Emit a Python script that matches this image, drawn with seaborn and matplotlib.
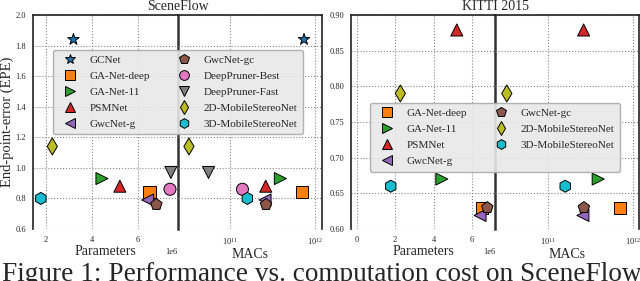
import numpy as np
import pandas as pd
import matplotlib.pyplot as plt
import seaborn as sns
from matplotlib.lines import Line2D

# valeurs
models = ['GCNet', 'GA-Net-deep', 'GA-Net-11', 'PSMNet', 'GwcNet-g', 'GwcNet-gc',
          'DeepPruner-Best', 'DeepPruner-Fast', '2D-MobileStereoNet', '3D-MobileStereoNet']
params = [3.19e6, 6.5e6, 4.43e6, 5.21e6, 6.42e6, 6.8e6, 7.39e6, 7.43e6, 2.27e6, 1.77e6]
macs = [7.4e11, 7.0e11, 3.9e11, 2.63e11, 2.58e11, 2.65e11, 1.4e11, 5.6e10, 3.3e10, 1.6e11]
epe_sceneflow = [1.84, 0.84, 0.93, 0.88, 0.79, 0.76, 0.86, 0.97, 1.14, 0.80]

kitti_models = ['GA-Net-deep', 'GA-Net-11', 'PSMNet', 'GwcNet-g', 'GwcNet-gc',
                '2D-MobileStereoNet', '3D-MobileStereoNet']
epe_kitti = [0.63, 0.67, 0.879, 0.619, 0.63, 0.79, 0.66]

colors = ['tab:blue', 'tab:orange', 'tab:green', 'tab:red', 'tab:purple', 'tab:brown',
          'tab:pink', 'tab:gray', 'tab:olive', 'tab:cyan']
marker_list = ['*', 's', '>', '^', '<', 'p', 'o', 'v', 'd', 'h']
palette = dict(zip(models, colors))
markers = dict(zip(models, marker_list))

sns.set_theme(style='white')
plt.rcParams['font.family'] = ['Liberation Serif', 'DejaVu Serif']
plt.rcParams['mathtext.fontset'] = 'stix'

df_sf = pd.DataFrame({'model': models, 'params': params, 'macs': macs, 'epe': epe_sceneflow})
info = pd.DataFrame({'model': models, 'params': params, 'macs': macs})
df_kt = pd.DataFrame({'model': kitti_models, 'epe': epe_kitti}).merge(info, on='model')

fig = plt.figure(figsize=(6.4, 2.81), dpi=100)
W, H = 640, 281


def rect(x0, x1, y0=15, y1=229):
    return [x0 / W, 1 - y1 / H, (x1 - x0) / W, (y1 - y0) / H]


def draw(df, x_edges, xlim_p, xlim_m, ylim, yticks, title, legend_anchor, ylabel=None):
    ax_p = fig.add_axes(rect(x_edges[0], x_edges[1]))
    ax_m = fig.add_axes(rect(x_edges[1], x_edges[2]), sharey=ax_p)
    ax_m.patch.set_visible(False)
    for ax, col in [(ax_p, 'params'), (ax_m, 'macs')]:
        sns.scatterplot(data=df, x=col, y='epe', hue='model', style='model',
                        palette=palette, markers=markers, s=75, edgecolor='black',
                        linewidth=0.7, legend=False, ax=ax, zorder=3)
        ax.tick_params(labelsize=6, length=3, color='#555555', pad=2)
        ax.spines['bottom'].set_visible(False)
        ax.spines['top'].set_color('#222222')
        ax.spines['top'].set_linewidth(1.2)
    ax_m.set_xscale('log')
    ax_p.set_xlim(*xlim_p)
    ax_m.set_xlim(*xlim_m)
    ax_p.set_ylim(*ylim)
    ax_p.set_yticks(yticks)
    ax_p.xaxis.get_offset_text().set_fontsize(6)
    ax_p.spines['left'].set_color('#222222')
    ax_p.spines['left'].set_linewidth(1.2)
    ax_p.spines['right'].set_color('#333333')
    ax_p.spines['right'].set_linewidth(1.8)
    ax_m.spines['left'].set_visible(False)
    ax_m.spines['right'].set_color('#222222')
    ax_m.spines['right'].set_linewidth(1.2)
    ax_m.tick_params(axis='y', left=False, labelleft=False)
    ax_p.set_xlabel('Parameters', fontsize=10, labelpad=1)
    ax_m.set_xlabel('MACs', fontsize=10, labelpad=1)
    ax_p.set_ylabel(ylabel if ylabel else '', fontsize=10.5, labelpad=1)
    ax_m.set_ylabel('')
    for ax in (ax_p, ax_m):
        ax.set_axisbelow(True)
        ax.xaxis.grid(True, which='major', linestyle=':', color='#888888', linewidth=0.8)
        ax.yaxis.grid(True, which='major', linestyle=':', color='#888888', linewidth=0.8)
    fig.text(x_edges[1] / W, 1 - 7 / H, title, ha='center', va='center', fontsize=10)

    handles = [Line2D([], [], linestyle='none', marker=markers[m], markersize=7,
                      markerfacecolor=palette[m], markeredgecolor='black',
                      markeredgewidth=0.7, label=m) for m in df['model']]
    fig.legend(handles=handles, ncol=2, loc='upper left',
               bbox_to_anchor=(legend_anchor[0] / W, 1 - legend_anchor[1] / H),
               fontsize=8, frameon=True, facecolor='#e8e8e8', edgecolor='#aaaaaa',
               framealpha=0.9, fancybox=True, borderaxespad=0, labelspacing=0.55,
               columnspacing=2.0, handletextpad=0.8, borderpad=0.5)


draw(df_sf, (33, 178, 322), (1.43e6, 7.74e6), (10 ** 10.39, 10 ** 12.08),
     (0.6, 2.0), np.arange(0.6, 2.01, 0.2), 'SceneFlow', (53, 50),
     ylabel='End-point-error (EPE)')
draw(df_kt, (351, 495, 639), (-0.3e6, 7.2e6), (10 ** 10.38, 10 ** 12.07),
     (0.6, 0.9), np.arange(0.60, 0.901, 0.05), 'KITTI 2015', (370, 103))

fig.text(2 / W, 1 - 262 / H, 'Figure 1: Performance vs. computation cost on SceneFlow',
         ha='left', va='top', fontsize=19.6)

fig.savefig('out.png', dpi=100)
